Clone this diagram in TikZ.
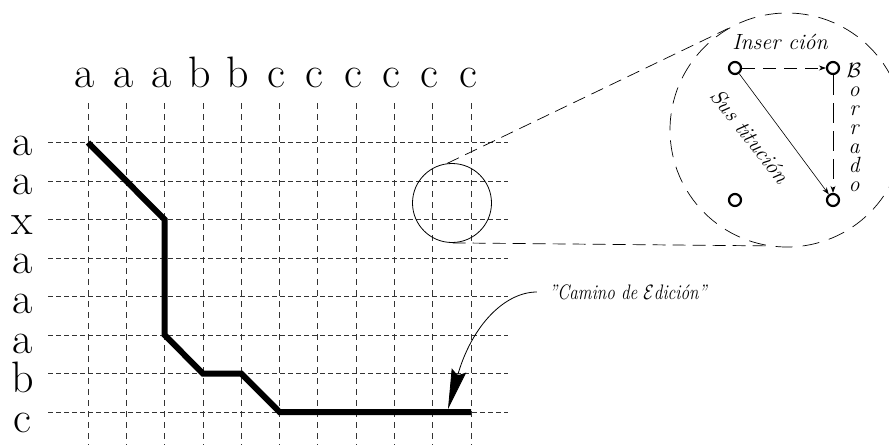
\documentclass[tikz,border=0pt]{standalone}
\usetikzlibrary{arrows.meta}
\begin{document}
\begin{tikzpicture}[x=1pt,y=-1pt,
  gridh/.style={black!80, line width=0.7pt, dash pattern=on 4.5pt off 3.5pt},
  gridv/.style={black!80, line width=0.7pt, dash pattern=on 6pt off 5pt},
  lbl/.style={font=\fontsize{44}{44}\selectfont, inner sep=0pt, anchor=base},
  pathline/.style={line width=6pt, line join=miter, line cap=butt},
  itl/.style={font=\fontsize{22}{19}\selectfont\itshape, inner sep=0pt},
  longdash/.style={line width=0.7pt, dash pattern=on 13pt off 7pt},
  bigdash/.style={line width=0.7pt, dash pattern=on 17pt off 10pt},
  innode/.style={circle, draw, line width=2.2pt, minimum size=12pt, inner sep=0pt},
  smarrow/.style={-{Stealth[length=7pt,width=5pt]}, line width=0.6pt},
]
\useasboundingbox (0,0) rectangle (889,445);

% grid
\foreach \i in {0,...,10} \draw[gridv] (88+38.3*\i,103) -- (88+38.3*\i,445);
\foreach \j in {0,...,7} \draw[gridh] (48,142.5+38.5*\j) -- (508,142.5+38.5*\j);

% column letters
\foreach \c [count=\i from 0] in {a,a,a,b,b,c,c,c,c,c,c}
  \node[lbl] (top\i) at (85+38.3*\i,87) {\c};
% row letters
\foreach \c [count=\j from 0] in {a,a,x,a,a,a,b,c}
  \node[lbl] (row\j) at (22.5,155+39.6*\j) {\c};

% edit path
\coordinate (p0) at (88,142.5);
\coordinate (p1) at (164.6,219.5);
\coordinate (p2) at (164.6,335);
\coordinate (p3) at (202.9,373.5);
\coordinate (p4) at (241.2,373.5);
\coordinate (p5) at (279.5,412);
\coordinate (p6) at (471,412);
\draw[pathline] (p0) -- (p1) -- (p2) -- (p3) -- (p4) -- (p5) -- (p6);

% zoom circles
\node[circle, draw, line width=0.8pt, minimum size=79pt, inner sep=0pt] (zoom) at (452,203) {};
\node[circle, draw, bigdash, minimum size=234pt, inner sep=0pt] (big) at (787,130) {};
\draw[longdash] (zoom.97) -- (big.120);
\draw[longdash] (zoom.271) -- (big.261);

% inner nodes
\node[innode] (n1) at (735,68) {};
\node[innode] (n2) at (833,68) {};
\node[innode] (n3) at (735,200) {};
\node[innode] (n4) at (833,200) {};
\draw[smarrow, dash pattern=on 13pt off 8pt] (n1) -- (n2);
\draw[smarrow] (n1) -- (n4);
\draw[smarrow, dash pattern=on 20pt off 8pt] (n2) -- (n4);

\node[itl] (ins) at (780,42) {Inser ción};
\node[itl, rotate=-52] (sus) at (750,136) {Sus titución};
\node[itl, align=center, anchor=north] (bor) at (854,63) {$\mathcal{B}$\\o\\r\\r\\a\\d\\o};

% label with arrow
\node[font=\fontsize{21}{21}\selectfont\itshape, inner sep=0pt, xscale=0.82] (cam) at (628,292) {"Camino de $\mathcal{E}$dición"};
\coordinate (tip) at (448,409);
\draw[line width=0.8pt, -{Stealth[length=40pt,width=15pt,inset=5pt]}]
  ([xshift=-12pt]cam.west) .. controls (505,292) and (472,325) .. (tip);
\end{tikzpicture}
\end{document}
